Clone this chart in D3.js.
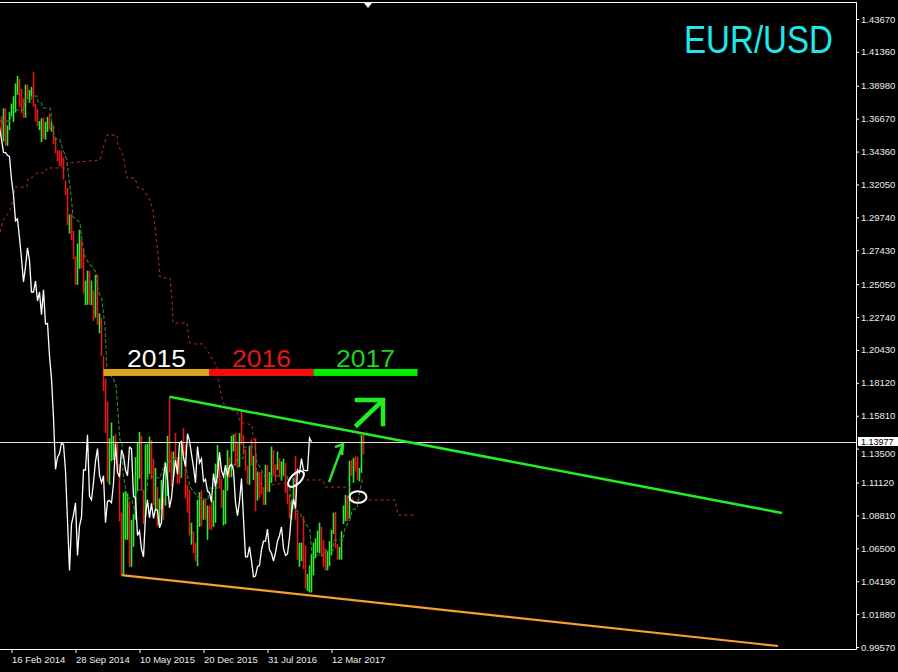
<!DOCTYPE html>
<html><head><meta charset="utf-8">
<script src="https://cdn.jsdelivr.net/npm/d3@7/dist/d3.min.js"></script>
<style>
html,body{margin:0;padding:0;background:#000;}
svg{display:block}
text{font-family:"Liberation Sans",Arial,sans-serif}
</style></head><body>
<svg id="chart" width="898" height="672"></svg>
<script>
// ---------- DATA (EUR/USD weekly) ----------
const firstWeek = "2014-01-12";
const firstOpen = 1.3660;
const highs = [
1.3686,1.3739,1.3740,1.3620,1.3715,1.3773,1.3825,1.3915,1.3967,1.3948,
1.3877,1.3810,1.3906,1.3906,1.3868,1.3890,1.3993,1.3770,1.3733,1.3650,
1.3670,1.3676,1.3645,1.3680,1.3700,1.3642,1.3620,1.3530,1.3445,1.3444,
1.3445,1.3395,1.3232,1.3180,1.2995,1.3000,1.2880,1.2700,1.2790,1.2887,
1.2815,1.2750,1.2530,1.2600,1.2600,1.2530,1.2460,1.2570,1.2570,1.2300,
1.2270,1.2000,1.1840,1.1680,1.1423,1.1534,1.1440,1.1450,1.1390,1.1240,
1.0900,1.1043,1.1050,1.1035,1.0980,1.0848,1.0890,1.1290,1.1390,1.1467,
1.1440,1.1060,1.1380,1.1385,1.1435,1.1410,1.1280,1.1215,1.1080,1.1000,
1.1130,1.1000,1.1210,1.1440,1.1714,1.1330,1.1330,1.1460,1.1290,1.1290,
1.1390,1.1495,1.1380,1.1095,1.1060,1.0830,1.0770,1.0690,1.0990,1.1045,
1.1060,1.0990,1.0990,1.0950,1.0950,1.0990,1.0985,1.1245,1.1375,1.1250,
1.1140,1.1060,1.1220,1.1340,1.1290,1.1440,1.1450,1.1460,1.1390,1.1460,
1.1615,1.1445,1.1345,1.1230,1.1370,1.1415,1.1300,1.1425,1.1190,1.1185,
1.1185,1.1080,1.1235,1.1235,1.1185,1.1365,1.1340,1.1240,1.1330,1.1280,
1.1260,1.1280,1.1250,1.1100,1.1030,1.0985,1.1145,1.1300,1.0900,1.0690,
1.0690,1.0875,1.0670,1.0470,1.0530,1.0610,1.0690,1.0720,1.0775,1.0830,
1.0800,1.0710,1.0650,1.0630,1.0700,1.0780,1.0900,1.0905,1.0680,1.0660,
1.0770,1.0950,1.1025,1.1020,1.1265,1.1270,1.1285,1.1295,1.1295,1.1215,
1.1445,1.1445];
const lows = [
1.3540,1.3507,1.3478,1.3476,1.3587,1.3682,1.3642,1.3710,1.3835,1.3749,
1.3705,1.3673,1.3673,1.3800,1.3782,1.3821,1.3750,1.3648,1.3614,1.3586,
1.3503,1.3523,1.3520,1.3574,1.3590,1.3575,1.3490,1.3425,1.3367,1.3332,
1.3330,1.3240,1.3130,1.2920,1.2860,1.2815,1.2680,1.2500,1.2500,1.2613,
1.2615,1.2440,1.2357,1.2360,1.2360,1.2357,1.2247,1.2270,1.2220,1.2160,
1.2000,1.1754,1.1460,1.1115,1.1097,1.1262,1.1270,1.1315,1.1170,1.0840,
1.0462,1.0460,1.0710,1.0710,1.0519,1.0520,1.0660,1.0850,1.1050,1.1140,
1.1060,1.0820,1.0870,1.1135,1.1170,1.1135,1.0955,1.0915,1.0808,1.0810,
1.0920,1.0850,1.0950,1.1017,1.1185,1.1085,1.1150,1.1270,1.1105,1.1105,
1.1145,1.1300,1.1000,1.0900,1.0740,1.0675,1.0615,1.0560,1.0525,1.0800,
1.0805,1.0850,1.0850,1.0710,1.0780,1.0780,1.0800,1.0830,1.1150,1.1070,
1.0935,1.0810,1.0820,1.1055,1.1145,1.1150,1.1330,1.1230,1.1215,1.1220,
1.1380,1.1310,1.1195,1.1100,1.1095,1.1230,1.1130,1.0910,1.0985,1.1000,
1.1030,1.0955,1.0955,1.1045,1.1045,1.1110,1.1160,1.1120,1.1200,1.1150,
1.1125,1.1160,1.1040,1.0960,1.0860,1.0850,1.0960,1.0850,1.0570,1.0520,
1.0560,1.0505,1.0365,1.0350,1.0340,1.0340,1.0460,1.0580,1.0620,1.0615,
1.0590,1.0520,1.0495,1.0495,1.0525,1.0600,1.0750,1.0650,1.0570,1.0570,
1.0570,1.0820,1.0840,1.0840,1.0860,1.1160,1.1110,1.1190,1.1130,1.1120,
1.1180,1.1310];
const closes = [
1.3541,1.3678,1.3485,1.3633,1.3694,1.3740,1.3805,1.3874,1.3912,1.3790,
1.3750,1.3705,1.3885,1.3812,1.3830,1.3870,1.3758,1.3696,1.3626,1.3634,
1.3642,1.3540,1.3609,1.3645,1.3592,1.3605,1.3522,1.3430,1.3428,1.3410,
1.3400,1.3240,1.3131,1.2950,1.2963,1.2830,1.2685,1.2520,1.2630,1.2760,
1.2670,1.2450,1.2450,1.2526,1.2388,1.2450,1.2290,1.2465,1.2225,1.2230,
1.2000,1.1842,1.1565,1.1205,1.1290,1.1315,1.1390,1.1380,1.1195,1.0845,
1.0495,1.0820,1.0885,1.0970,1.0600,1.0806,1.0870,1.1200,1.1200,1.1447,
1.1015,1.0990,1.1115,1.1260,1.1350,1.1165,1.1110,1.1160,1.0830,1.0980,
1.0985,1.0970,1.1105,1.1384,1.1185,1.1150,1.1340,1.1300,1.1200,1.1160,
1.1360,1.1350,1.1015,1.1005,1.0740,1.0770,1.0645,1.0590,1.0880,1.0990,
1.0865,1.0965,1.0860,1.0925,1.0915,1.0795,1.0830,1.1155,1.1250,1.1130,
1.0935,1.1005,1.1150,1.1270,1.1170,1.1390,1.1400,1.1285,1.1225,1.1455,
1.1405,1.1310,1.1220,1.1110,1.1365,1.1250,1.1280,1.1120,1.1135,1.1050,
1.1040,1.0975,1.1175,1.1085,1.1165,1.1325,1.1195,1.1155,1.1235,1.1155,
1.1225,1.1240,1.1200,1.0970,1.0880,1.0980,1.1140,1.0855,1.0590,1.0590,
1.0660,1.0560,1.0450,1.0455,1.0520,1.0530,1.0640,1.0700,1.0700,1.0785,
1.0640,1.0615,1.0560,1.0620,1.0700,1.0740,1.0800,1.0650,1.0600,1.0610,
1.0725,1.0895,1.0995,1.0930,1.1200,1.1180,1.1280,1.1200,1.1195,1.1195,
1.1425,1.1398];
const chikouShift = 26;
// Tenkan-sen (green dashed): [week index, price]
const tenkanPts = [[-0.75,1.3650],[4.25,1.3650],[5.75,1.3728],[10.75,1.3728],[11.75,1.3784],[14.75,1.3784],
[15.25,1.3826],[17.75,1.3826],[18.25,1.3784],[19.75,1.3784],[20.75,1.3742],[24.25,1.3742],[24.75,1.3707],
[25.25,1.3609],[26.75,1.3531],[29.25,1.3517],[30.25,1.3468],[32.75,1.3377],[33.25,1.3307],[34.25,1.3187],
[35.25,1.3061],[35.75,1.2977],[37.75,1.2956],[39.25,1.2934],[40.25,1.2815],[41.75,1.2696],[43.25,1.2661],
[47.25,1.2590],[48.25,1.2464],[50.25,1.2394],[51.75,1.2204],[52.75,1.1888],[55.75,1.1846],[57.25,1.1797],
[58.25,1.1600],[59.25,1.1411],[60.25,1.1390],[60.75,1.1179],[62.75,1.1010],[65.25,1.0989],[66.75,1.0905],
[67.75,1.1059],[72.75,1.1059],[73.25,1.1158],[79.25,1.1144],[81.75,1.1256],[85.25,1.1263],[86.75,1.1284],
[91.75,1.1284],[92.75,1.1179],[94.25,1.1081],[98.25,1.1010],[103.25,1.0989],[103.75,1.1073],[107.75,1.1073],
[108.25,1.1151],[111.75,1.1151],[112.75,1.1221],[115.75,1.1221],[117.75,1.1270],[120.75,1.1284],[121.25,1.1361],
[126.75,1.1361],[127.75,1.1256],[131.75,1.1151],[137.75,1.1158],[142.75,1.1158],[144.25,1.1059],[145.75,1.0933],
[149.25,1.0898],[150.75,1.0849],[154.25,1.0779],[155.25,1.0603],[160.75,1.0603],[161.75,1.0631],[165.75,1.0631],
[166.25,1.0708],[170.75,1.0708],[171.75,1.0793],[174.25,1.0849],[175.25,1.0919],[177.75,1.0933],[179.25,1.1059],
[180.75,1.1151]];
// Senkou span B (red dashed, shifted forward): [week index, price]
const spanBPts = [[-0.75,1.2871],[0.75,1.2955],[2.75,1.2991],[4.25,1.3026],[5.75,1.3096],[6.75,1.3187],[12.75,1.3187],
[13.25,1.3250],[15.75,1.3257],[17.75,1.3286],[21.75,1.3286],[22.75,1.3321],[31.75,1.3321],[33.25,1.3356],
[49.25,1.3377],[51.25,1.3482],[52.75,1.3552],[57.75,1.3552],[58.25,1.3482],[60.75,1.3412],[62.75,1.3250],
[66.75,1.3250],[68.25,1.3180],[70.75,1.3173],[74.25,1.3096],[75.75,1.3026],[77.75,1.2794],[79.25,1.2555],
[80.25,1.2548],[84.25,1.2548],[85.25,1.2394],[85.75,1.2232],[92.75,1.2232],[93.75,1.2099],[95.75,1.2085],
[100.75,1.2085],[102.75,1.2043],[105.75,1.1972],[107.75,1.1923],[109.25,1.1762],[110.25,1.1705],[111.75,1.1642],
[114.25,1.1621],[117.75,1.1607],[119.25,1.1537],[125.25,1.1516],[125.75,1.1446],[126.75,1.1389],[127.75,1.1109],
[134.25,1.1095],[142.75,1.1109],[144.25,1.1130],[160.75,1.1130],[161.75,1.1080],[174.25,1.1080],[175.75,1.0989],
[196.75,1.0989],[198.25,1.0884],[207.25,1.0884]];
const priceTicks = [1.43670,1.41360,1.38980,1.36670,1.34360,1.32050,1.29740,1.27430,1.25050,1.22740,
1.20430,1.18120,1.15810,1.13500,1.11120,1.08810,1.06500,1.04190,1.01880,0.99570];
const dateTicks = ["2014-02-16","2014-09-28","2015-05-10","2015-12-20","2016-07-31","2017-03-12"];
const currentPrice = 1.13977;
const resistanceLine = [[84,1.1714],[390.25,1.0898]];
const supportLine = [[60,1.0462],[388.25,0.9964]];
const yearLabels = ["2015","2016","2017"];
const yearBounds = ["2015-01-04","2016-01-10","2017-01-08","2018-01-07"];
const yearBandPrice = 1.1885;
const circleMarks = [[147.25,1.1137],[178.25,1.1010]];
const smallArrow = [[163.75,1.1116],[170.75,1.1382]];
const bigArrow = [[177.75,1.1516],[190.75,1.1691]];
const shiftMarkerWeek = 183.25;
const title = "EUR/USD";

// ---------- DRAW ----------
const svg = d3.select("#chart");
const W = 898, H = 672;
const plotRight = 856, plotTop = 2, plotBottom = 649;
svg.append("rect").attr("width", W).attr("height", H).attr("fill", "#000");

const parse = d3.utcParse("%Y-%m-%d");
const week0 = parse(firstWeek);
const dateAt = k => new Date(week0.getTime() + k * 7 * 86400000);
const x = d3.scaleUtc()
  .domain([parse(dateTicks[0]), parse(dateTicks[dateTicks.length - 1])])
  .range([11.5, 331.5]);
const y = d3.scaleLinear()
  .domain([priceTicks[priceTicks.length - 1], priceTicks[0]])
  .range([647, 19]);
const xk = k => x(dateAt(k));

svg.append("defs").append("clipPath").attr("id", "clip")
  .append("rect").attr("x", 0).attr("y", plotTop + 1)
  .attr("width", plotRight).attr("height", plotBottom - plotTop - 1);
const g = svg.append("g").attr("clip-path", "url(#clip)");

// candles (bars)
const bars = highs.map((h, i) => ({k: i, h, l: lows[i], c: closes[i], o: i ? closes[i - 1] : firstOpen}));
g.append("g").selectAll("line").data(bars).join("line")
  .attr("x1", d => xk(d.k)).attr("x2", d => xk(d.k))
  .attr("y1", d => y(d.h)).attr("y2", d => y(d.l))
  .attr("stroke", d => d.c >= d.o ? "#30ea30" : "#e41818")
  .attr("stroke-width", 1.6);

const line = d3.line().x(d => xk(d[0])).y(d => y(d[1]));

// Senkou B
g.append("path").attr("d", line(spanBPts)).attr("fill", "none")
  .attr("stroke", "#c02a2a").attr("stroke-width", 1).attr("stroke-dasharray", "3,3");
// Tenkan
g.append("path").attr("d", line(tenkanPts)).attr("fill", "none")
  .attr("stroke", "#2a8a2a").attr("stroke-width", 1.1).attr("stroke-dasharray", "4,2");
// Chikou
const chikou = closes.map((c, i) => [i - chikouShift, c]);
g.append("path").attr("d", line(chikou)).attr("fill", "none")
  .attr("stroke", "#ffffff").attr("stroke-width", 1.3);

// current price line
g.append("line").attr("x1", 0).attr("x2", plotRight)
  .attr("y1", Math.round(y(currentPrice)) + 0.5).attr("y2", Math.round(y(currentPrice)) + 0.5)
  .attr("stroke", "#e6e6e6").attr("stroke-width", 1);

// trend lines
g.append("path").attr("d", line(resistanceLine)).attr("stroke", "#22ee22").attr("stroke-width", 2.5).attr("fill", "none");
g.append("path").attr("d", line(supportLine)).attr("stroke", "#f5a030").attr("stroke-width", 2.2).attr("fill", "none");

// year band
const yearColors = ["#daa520", "#ff0a0a", "#00ee00"];
const textColors = ["#ffffff", "#e01818", "#22d022"];
yearLabels.forEach((lab, i) => {
  const x0 = x(parse(yearBounds[i])), x1 = x(parse(yearBounds[i + 1]));
  const yc = y(yearBandPrice);
  g.append("rect").attr("x", x0).attr("y", yc - 3.5).attr("width", x1 - x0).attr("height", 7)
    .attr("fill", yearColors[i]);
  g.append("text").attr("x", (x0 + x1) / 2 - 29.5).attr("y", yc - 5.5)
    .attr("font-size", 24).attr("font-family", "DejaVu Sans, sans-serif").attr("fill", textColors[i])
    .attr("textLength", 59).attr("lengthAdjust", "spacingAndGlyphs")
    .text(lab);
});

// annotations
circleMarks.forEach((c, i) => {
  g.append("ellipse").attr("cx", xk(c[0])).attr("cy", y(c[1]))
    .attr("rx", i === 0 ? 10 : 8.5).attr("ry", i === 0 ? 5 : 5.8)
    .attr("transform", i === 0 ? `rotate(-45 ${xk(c[0])} ${y(c[1])})` : null)
    .attr("fill", "none").attr("stroke", "#fff").attr("stroke-width", 2);
});
{
  const [a, b] = smallArrow;
  const tx = xk(b[0]), ty = y(b[1]);
  g.append("path")
    .attr("d", `M${xk(a[0])},${y(a[1])}L${tx},${ty}M${tx - 8},${ty + 3}L${tx},${ty}L${tx - 1},${ty + 11}`)
    .attr("fill", "none").attr("stroke", "#2ee02e").attr("stroke-width", 2.5);
}
{
  const [a, b] = bigArrow;
  const tx = xk(b[0]), ty = y(b[1]);
  g.append("path")
    .attr("d", `M${xk(a[0])},${y(a[1])}L${tx - 1},${ty + 1}M${tx - 26},${ty}L${tx},${ty}L${tx},${ty + 24}`)
    .attr("fill", "none").attr("stroke", "#22ee22").attr("stroke-width", 4.5).attr("stroke-linecap", "square");
}

// frame
svg.append("line").attr("x1", 0).attr("x2", plotRight + 0.5).attr("y1", plotTop + 0.5).attr("y2", plotTop + 0.5).attr("stroke", "#fff");
svg.append("line").attr("x1", plotRight + 0.5).attr("x2", plotRight + 0.5).attr("y1", plotTop).attr("y2", plotBottom + 0.5).attr("stroke", "#fff");
svg.append("line").attr("x1", 0).attr("x2", plotRight + 0.5).attr("y1", plotBottom + 0.5).attr("y2", plotBottom + 0.5).attr("stroke", "#fff");

// shift marker
{
  const mx = Math.round(xk(shiftMarkerWeek));
  svg.append("path").attr("d", `M${mx - 4},${plotTop + 1}L${mx + 4},${plotTop + 1}L${mx},${plotTop + 6}Z`).attr("fill", "#fff");
}

// price axis
const yAxis = d3.axisRight(y).tickValues(priceTicks).tickFormat(d3.format(".5f")).tickSize(3).tickPadding(2);
const ya = svg.append("g").attr("transform", `translate(${plotRight},0)`).call(yAxis);
ya.select(".domain").remove();
ya.selectAll("line").attr("stroke", "#fff");
ya.selectAll("text").attr("fill", "#ececec").attr("font-size", 9.5).attr("font-family", "Liberation Sans, Arial, sans-serif");
// the label hidden under the current-price box sits a little lower
ya.selectAll(".tick").filter(d => Math.abs(d - currentPrice) < 0.006).select("text").attr("dy", "0.85em");

// current price label
{
  const yc = Math.round(y(currentPrice));
  svg.append("rect").attr("x", plotRight + 2).attr("y", yc - 5).attr("width", W - plotRight - 2).attr("height", 9).attr("fill", "#fff");
  svg.append("text").attr("x", plotRight + 5).attr("y", yc + 3).attr("font-size", 9).attr("fill", "#000")
    .text(d3.format(".5f")(currentPrice));
}

// date axis
const xAxis = d3.axisBottom(x).tickValues(dateTicks.map(parse))
  .tickFormat(d3.utcFormat("%d %b %Y")).tickSize(4).tickPadding(3);
const xa = svg.append("g").attr("transform", `translate(0,${plotBottom})`).call(xAxis);
xa.select(".domain").remove();
xa.selectAll("line").attr("stroke", "#fff");
xa.selectAll("text").attr("fill", "#ececec").attr("font-size", 9.5).attr("text-anchor", "start").attr("x", 0)
  .attr("font-family", "Liberation Sans, Arial, sans-serif");

// title
svg.append("text").attr("x", 684).attr("y", 53).attr("font-size", 39)
  .attr("font-family", "DejaVu Sans, sans-serif").attr("fill", "#1ee8ea")
  .attr("textLength", 149).attr("lengthAdjust", "spacingAndGlyphs").text(title);
</script>
</body></html>
